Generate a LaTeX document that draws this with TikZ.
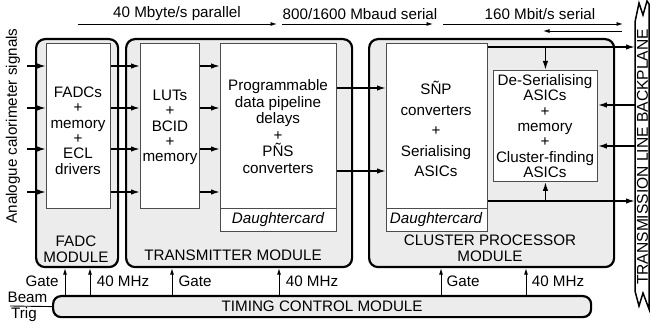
\documentclass[tikz,border=0pt]{standalone}
\usepackage{fontspec}
\setmainfont{Liberation Sans}
\usetikzlibrary{arrows.meta}
\definecolor{modgray}{gray}{0.925}
\definecolor{boxline}{gray}{0.3}
\begin{document}
\begin{tikzpicture}[x=1pt,y=-1pt,
  module/.style={draw, line width=2.2pt, fill=modgray, rounded corners=9pt,
    inner sep=0pt, anchor=north west},
  inbox/.style={draw=boxline, line width=0.9pt, fill=white, inner sep=0pt,
    anchor=north west},
  txt/.style={align=center, inner sep=0pt, font=\fontsize{15.2}{15.4}\selectfont},
  conn/.style={line width=1.5pt, -{Latex[length=9pt,width=5.5pt]}},
  sig/.style={line width=0.9pt, -{Latex[length=6.5pt,width=4pt]}},
]
\useasboundingbox (0,0) rectangle (651,323);

% ---------- modules ----------
\node[module, minimum width=82, minimum height=228] (fadcmod) at (35,38) {};
\node[module, minimum width=226, minimum height=228] (transmod) at (125,38) {};
\node[module, minimum width=245, minimum height=228] (clustmod) at (368,38) {};
\node[module, rounded corners=8pt, minimum width=538, minimum height=21] (timing) at (52,295) {};

% ---------- boards inside the modules ----------
\node[inbox, minimum width=64, minimum height=165] (fadc) at (46,43) {};
\node[inbox, minimum width=59, minimum height=165] (lut) at (140,43) {};
\node[inbox, minimum width=116, minimum height=188] (prog) at (220,43) {};
\node[inbox, minimum width=101, minimum height=188] (snp) at (386,43) {};
\node[inbox, minimum width=104, minimum height=111] (deser) at (493,70) {};

\coordinate (dc) at (0,208);
\draw[boxline, line width=0.9pt] (prog.west |- dc) -- (prog.east |- dc);
\draw[boxline, line width=0.9pt] (snp.west |- dc) -- (snp.east |- dc);

% ---------- texts in the boards ----------
\node[txt] (fadctxt) at (78,130.5) {FADCs\\+\\memory\\+\\ECL\\drivers};
\node[txt] (luttxt) at (170,127.5) {LUTs\\+\\BCID\\+\\memory};
\node[txt, font=\fontsize{15.2}{16.6}\selectfont] (progtxt) at (278,126.5)
  {Programmable\\data pipeline\\delays\\+\\PÑS\\converters};
\node[txt, font=\fontsize{15.2}{20.5}\selectfont] (snptxt) at (436,129)
  {SÑP\\converters\\+\\Serialising\\ASICs};
\node[txt] (desertxt) at (545,126)
  {De-Serialising\\ASICs\\+\\memory\\+\\Cluster-finding\\ASICs};
\node[txt, font=\fontsize{15.2}{15.4}\selectfont\itshape] (dcprog) at (278,220) {Daughtercard};
\node[txt, font=\fontsize{15.2}{15.4}\selectfont\itshape] (dcsnp) at (436,220) {Daughtercard};

% ---------- module titles ----------
\node[txt, font=\fontsize{15.2}{16}\selectfont] (fadcname) at (76,249) {FADC\\MODULE};
\node[txt] (transname) at (233,255) {TRANSMITTER MODULE};
\node[txt, font=\fontsize{15.2}{15.5}\selectfont] (clustname) at (490,248.5) {CLUSTER PROCESSOR\\MODULE};
\node[txt] (timingname) at (timing.center) {TIMING CONTROL MODULE};

% ---------- backplane ----------
\draw[line width=1.5pt, line join=miter]
  (649,4) -- (647,1) -- (643,15) -- (639,3) -- (635,22) -- (635,291)
  -- (639,306) -- (643,293) -- (649,309) -- cycle;
\coordinate (bpl) at (635,0);
\node[txt, rotate=90, font=\fontsize{15.6}{16}\selectfont] (bptxt) at (642.5,157) {TRANSMISSION LINE BACKPLANE};

% ---------- input signals ----------
\node[txt, rotate=90] (analogue) at (13,126) {Analogue calorimeter signals};
\coordinate (sigin) at (27,0);
\coordinate (r1) at (0,66);
\coordinate (r2) at (0,108);
\coordinate (r3) at (0,149);
\coordinate (r4) at (0,192);
\foreach \r in {r1,r2,r3,r4} {
  \draw[conn] (sigin |- \r) -- (fadc.west |- \r);
  \draw[conn] (fadc.east |- \r) -- (lut.west |- \r);
  \draw[conn] (lut.east |- \r) -- (prog.west |- \r);
}

% ---------- serial links ----------
\coordinate (p1) at (0,88);
\coordinate (p2) at (0,171);
\draw[conn] (prog.east |- p1) -- (snp.west |- p1);
\draw[conn] (prog.east |- p2) -- (snp.west |- p2);

\coordinate (c1) at (0,47);
\coordinate (c2) at (0,201);
\coordinate (b1) at (0,105);
\coordinate (b2) at (0,146);
\draw[conn] (snp.east |- c1) -- (bpl |- c1);
\draw[conn] (deser.north |- c1) -- (deser.north);
\draw[conn] (snp.east |- c2) -- (bpl |- c2);
\draw[conn] (deser.south |- c2) -- (deser.south);
\draw[conn] (bpl |- b1) -- (deser.east |- b1);
\draw[conn] (bpl |- b2) -- (deser.east |- b2);

% ---------- data rates ----------
\coordinate (ra0) at (78,24);   \coordinate (ra1) at (277,24);
\coordinate (rb0) at (282,24);  \coordinate (rb1) at (433,24);
\coordinate (rc0) at (443,24);  \coordinate (rc1) at (623,24);
\coordinate (rd0) at (622,31);  \coordinate (rd1) at (543,31);
\draw[sig] (ra0) -- (ra1);
\draw[sig] (rb0) -- (rb1);
\draw[sig] (rc0) -- (rc1);
\draw[sig] (rd0) -- (rd1);
\node[txt] (ratea) at (177,14) {40 Mbyte/s parallel};
\node[txt] (rateb) at (360,14) {800/1600 Mbaud serial};
\node[txt] (ratec) at (540,14) {160 Mbit/s serial};

% ---------- timing distribution ----------
\coordinate (g1) at (65,0);   \coordinate (k1) at (90,0);
\coordinate (g2) at (172,0);  \coordinate (k2) at (279,0);
\coordinate (g3) at (441,0);  \coordinate (k3) at (526,0);
\draw[sig] (timing.north -| g1) -- (fadcmod.south -| g1);
\draw[sig] (timing.north -| k1) -- (fadcmod.south -| k1);
\draw[sig] (timing.north -| g2) -- (transmod.south -| g2);
\draw[sig] (timing.north -| k2) -- (transmod.south -| k2);
\draw[sig] (timing.north -| g3) -- (clustmod.south -| g3);
\draw[sig] (timing.north -| k3) -- (clustmod.south -| k3);
\node[txt] (gatea) at (42,281) {Gate};
\node[txt] (clka) at (123,281) {40 MHz};
\node[txt] (gateb) at (195,281) {Gate};
\node[txt] (clkb) at (312,281) {40 MHz};
\node[txt] (gatec) at (463,281) {Gate};
\node[txt] (clkc) at (558,281) {40 MHz};

% ---------- beam trigger ----------
\node[txt] (beam) at (27.5,297) {Beam};
\node[txt] (trig) at (24,315) {Trig};
\coordinate (beamin) at (10,306);
\draw[line width=0.9pt] (beamin) -- (timing.west);
\end{tikzpicture}
\end{document}
